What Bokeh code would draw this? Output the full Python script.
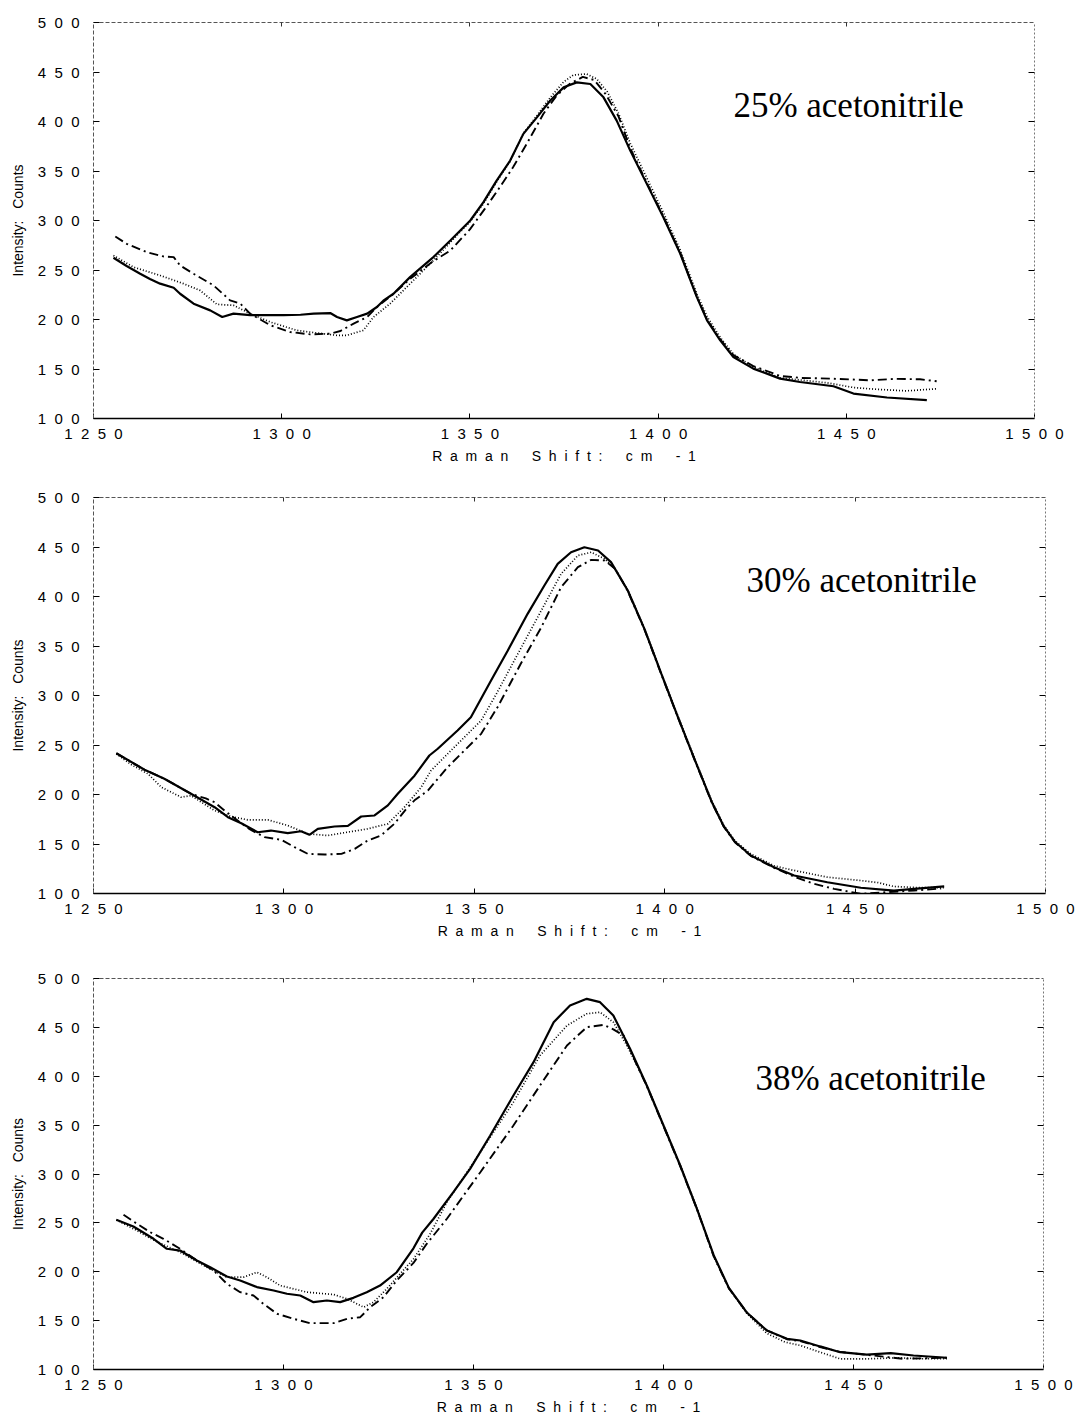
from bokeh.plotting import figure
from bokeh.layouts import column
from bokeh.models import Range1d, FixedTicker, LinearAxis, Label
from bokeh.embed import file_html
from bokeh.resources import INLINE

# ---------------- data ----------------
x_ticks = [1250, 1300, 1350, 1400, 1450, 1500]
y_ticks = [100, 150, 200, 250, 300, 350, 400, 450, 500]
panel_labels = ["25% acetonitrile", "30% acetonitrile", "38% acetonitrile"]
x_title = "Raman Shift:  cm -1"
y_title = "Intensity:  Counts"

# Panel 1 (25%)
p1_solid_x = [1255.3, 1258.8, 1262.4, 1265.0, 1267.7, 1271.3, 1273.0, 1276.6, 1281.0, 1284.2, 1287.2, 1291.6, 1296.0, 1300.5, 1305.0, 1308.5, 1312.9, 1314.7, 1317.3, 1320.0, 1322.7, 1325.3, 1327.0, 1329.7, 1334.1, 1340.3, 1344.8, 1350.1, 1353.6, 1357.1, 1360.7, 1364.2, 1367.8, 1371.3, 1374.9, 1378.4, 1382.0, 1385.5, 1389.0, 1392.6, 1397.0, 1401.4, 1405.9, 1410.3, 1413.0, 1416.5, 1420.0, 1425.3, 1432.4, 1437.7, 1446.6, 1451.9, 1460.8, 1471.4]
p1_solid_y = [262.4, 254.0, 246.2, 241.0, 236.2, 232.1, 226.0, 216.0, 209.2, 202.5, 205.9, 204.5, 204.5, 204.5, 204.8, 205.9, 206.5, 202.5, 199.1, 202.5, 205.9, 212.6, 219.0, 226.0, 242.8, 263.0, 279.8, 300.0, 318.5, 340.3, 360.5, 387.5, 404.2, 421.0, 434.5, 439.5, 437.9, 424.4, 400.9, 370.6, 337.0, 303.3, 266.4, 222.6, 199.1, 179.0, 162.1, 150.4, 140.3, 136.9, 132.6, 125.2, 121.2, 118.5]
p1_dot_x = [1255.3, 1260.6, 1267.7, 1273.9, 1278.3, 1282.8, 1287.2, 1291.6, 1297.0, 1304.0, 1309.4, 1314.7, 1317.3, 1321.7, 1324.4, 1328.8, 1333.2, 1340.3, 1344.8, 1350.1, 1353.6, 1357.1, 1360.7, 1364.2, 1367.8, 1371.3, 1374.9, 1377.5, 1381.0, 1383.7, 1386.5, 1389.5, 1392.6, 1397.0, 1401.4, 1405.9, 1410.3, 1413.0, 1416.5, 1420.0, 1425.3, 1432.4, 1438.6, 1445.0, 1451.9, 1458.0, 1466.0, 1474.0]
p1_dot_y = [264.7, 252.9, 244.5, 236.2, 229.4, 215.3, 214.3, 205.9, 197.4, 189.0, 186.4, 184.0, 184.0, 189.0, 202.5, 216.0, 232.7, 259.6, 278.0, 299.0, 317.0, 339.0, 360.0, 388.0, 406.0, 424.0, 440.0, 447.0, 448.0, 443.0, 430.0, 408.0, 378.0, 343.0, 308.0, 270.0, 226.0, 203.0, 182.0, 165.0, 152.0, 141.0, 138.6, 136.0, 131.3, 129.5, 127.9, 130.0]
p1_dd_x = [1255.8, 1258.8, 1264.2, 1268.6, 1271.3, 1273.0, 1276.6, 1281.9, 1286.3, 1289.0, 1291.6, 1297.0, 1302.3, 1307.6, 1312.9, 1315.6, 1319.1, 1322.7, 1325.3, 1329.7, 1334.1, 1340.3, 1344.8, 1350.0, 1354.0, 1358.0, 1361.5, 1365.1, 1369.5, 1373.0, 1376.5, 1380.0, 1383.0, 1386.0, 1389.5, 1392.6, 1397.0, 1401.4, 1405.9, 1410.3, 1413.0, 1416.5, 1420.0, 1425.3, 1432.4, 1438.0, 1445.7, 1456.3, 1463.0, 1469.6, 1474.0]
p1_dd_y = [283.9, 276.5, 268.0, 263.7, 263.0, 254.6, 246.2, 234.4, 219.3, 216.0, 205.9, 194.1, 187.3, 185.0, 185.7, 188.4, 195.8, 202.5, 212.6, 226.0, 241.0, 259.0, 269.7, 291.0, 312.0, 333.9, 354.0, 377.4, 407.6, 426.0, 438.0, 445.0, 442.0, 428.0, 405.0, 373.0, 338.0, 304.0, 267.0, 223.0, 200.0, 180.0, 164.0, 153.0, 143.0, 141.0, 140.3, 138.6, 140.0, 139.6, 137.6]

# Panel 2 (30%)
p2_solid_x = [1256.0, 1263.4, 1268.6, 1275.6, 1281.8, 1285.3, 1288.8, 1293.1, 1296.6, 1301.0, 1304.5, 1306.7, 1308.9, 1313.3, 1316.8, 1320.3, 1323.8, 1327.3, 1329.9, 1334.3, 1338.2, 1340.4, 1345.6, 1349.1, 1354.4, 1358.8, 1364.0, 1368.4, 1371.9, 1375.4, 1378.9, 1382.5, 1385.9, 1390.3, 1394.7, 1399.1, 1403.5, 1407.9, 1412.3, 1415.5, 1418.5, 1422.6, 1428.7, 1434.0, 1442.7, 1451.5, 1460.2, 1465.5, 1473.4]
p2_solid_y = [241.7, 225.0, 215.9, 200.7, 187.2, 177.1, 171.0, 161.9, 163.6, 160.9, 162.9, 159.3, 165.3, 167.7, 168.4, 177.8, 178.8, 189.0, 200.7, 219.0, 239.4, 246.2, 264.6, 278.1, 315.2, 345.5, 382.5, 411.1, 433.0, 444.7, 449.8, 446.5, 434.7, 406.1, 367.0, 322.0, 278.0, 235.0, 193.0, 168.0, 152.0, 138.4, 126.6, 118.2, 111.4, 105.8, 103.0, 104.7, 107.1]
p2_dot_x = [1256.0, 1260.0, 1264.3, 1267.8, 1273.0, 1275.6, 1281.8, 1286.1, 1290.5, 1295.8, 1301.0, 1306.3, 1311.5, 1316.8, 1322.0, 1327.3, 1331.6, 1336.0, 1338.6, 1343.0, 1351.8, 1356.0, 1360.5, 1367.6, 1372.8, 1377.2, 1380.7, 1384.2, 1387.0, 1390.3, 1394.7, 1399.1, 1403.5, 1407.9, 1412.3, 1415.5, 1418.5, 1422.6, 1428.7, 1433.1, 1442.7, 1451.5, 1456.0, 1460.2, 1466.0, 1473.4]
p2_dot_y = [241.0, 230.0, 220.9, 207.4, 197.3, 198.9, 183.8, 177.8, 174.4, 174.4, 168.7, 160.3, 158.6, 162.0, 165.3, 170.4, 187.0, 207.0, 224.0, 241.1, 274.7, 303.0, 335.4, 385.9, 422.9, 441.4, 444.7, 438.1, 428.0, 406.5, 367.5, 322.5, 279.0, 236.0, 194.0, 169.0, 153.0, 140.0, 128.0, 124.0, 116.5, 113.1, 111.0, 107.1, 106.0, 106.0]
p2_dd_x = [1256.0, 1263.4, 1268.6, 1275.6, 1279.5, 1281.8, 1284.4, 1288.8, 1291.0, 1294.9, 1299.3, 1302.8, 1306.3, 1310.7, 1315.1, 1318.6, 1322.0, 1325.5, 1329.0, 1332.5, 1334.3, 1337.8, 1343.0, 1351.8, 1356.1, 1362.2, 1367.6, 1372.8, 1377.2, 1380.7, 1384.2, 1387.0, 1390.3, 1394.7, 1399.1, 1403.5, 1407.9, 1412.3, 1415.5, 1418.5, 1422.6, 1428.7, 1434.0, 1439.0, 1444.5, 1451.5, 1456.8, 1465.5, 1472.6]
p2_dd_y = [241.7, 225.0, 215.9, 200.7, 196.0, 192.3, 183.8, 171.0, 165.0, 156.9, 154.2, 146.8, 140.0, 139.4, 140.0, 145.1, 153.5, 158.6, 170.4, 187.2, 194.1, 204.0, 227.6, 261.3, 288.2, 332.0, 369.0, 409.4, 429.6, 437.0, 436.4, 428.0, 405.5, 366.5, 321.5, 277.5, 234.5, 192.5, 167.5, 151.5, 138.0, 126.0, 117.0, 110.0, 104.7, 99.7, 101.0, 103.0, 105.0]

# Panel 3 (38%)
p3_solid_x = [1256.0, 1260.5, 1265.8, 1269.3, 1272.8, 1277.2, 1280.7, 1285.1, 1288.6, 1293.0, 1297.4, 1300.9, 1304.4, 1307.9, 1311.4, 1314.9, 1318.4, 1321.9, 1325.4, 1329.8, 1334.2, 1336.5, 1339.5, 1344.7, 1349.1, 1354.4, 1360.5, 1365.8, 1371.1, 1375.4, 1379.8, 1383.3, 1386.8, 1391.2, 1395.6, 1400.0, 1404.4, 1408.8, 1413.2, 1417.2, 1422.0, 1427.2, 1432.5, 1436.0, 1441.2, 1446.5, 1453.5, 1459.8, 1465.8, 1474.6]
p3_solid_y = [253.1, 246.3, 233.7, 223.5, 221.7, 211.5, 204.7, 195.1, 191.1, 184.3, 180.8, 177.5, 175.7, 168.9, 170.6, 168.9, 173.3, 179.1, 185.9, 199.5, 224.0, 240.0, 254.2, 281.4, 305.3, 339.4, 380.3, 414.4, 455.3, 472.4, 479.2, 475.8, 462.1, 428.1, 390.5, 349.6, 308.7, 264.4, 217.0, 183.5, 158.0, 139.9, 131.4, 129.7, 123.6, 117.7, 115.3, 116.7, 114.3, 112.0]
p3_dot_x = [1256.0, 1261.4, 1266.0, 1272.8, 1279.8, 1285.1, 1289.5, 1293.0, 1295.6, 1299.1, 1306.2, 1313.2, 1316.7, 1321.1, 1323.7, 1327.2, 1330.7, 1334.2, 1338.6, 1343.0, 1351.8, 1360.5, 1367.5, 1374.6, 1379.8, 1383.3, 1386.8, 1390.3, 1395.6, 1400.0, 1404.4, 1408.8, 1413.2, 1417.2, 1422.0, 1427.2, 1432.0, 1436.0, 1441.0, 1446.5, 1453.5, 1462.0, 1468.0, 1474.6]
p3_dot_y = [253.0, 242.2, 232.0, 220.0, 204.7, 194.5, 194.5, 199.5, 194.5, 185.9, 179.1, 176.7, 172.3, 163.7, 168.9, 182.6, 197.9, 213.0, 238.8, 271.2, 322.3, 373.5, 421.2, 451.9, 463.9, 465.5, 455.3, 432.0, 391.0, 350.0, 309.0, 265.0, 216.0, 183.0, 157.0, 137.0, 128.0, 124.6, 118.0, 110.9, 110.9, 112.0, 111.0, 111.0]
p3_dd_x = [1257.9, 1260.5, 1264.9, 1268.4, 1272.8, 1277.2, 1281.6, 1285.1, 1288.6, 1292.1, 1294.7, 1298.3, 1302.6, 1307.0, 1313.2, 1316.7, 1320.2, 1322.8, 1326.3, 1329.8, 1334.2, 1337.7, 1343.0, 1351.8, 1360.5, 1367.5, 1374.6, 1379.8, 1384.2, 1386.8, 1389.5, 1392.0, 1395.6, 1400.0, 1404.4, 1408.8, 1413.2, 1417.2, 1422.0, 1427.2, 1432.5, 1436.0, 1441.2, 1446.5, 1453.5, 1463.0, 1474.6]
p3_dd_y = [258.3, 251.5, 240.5, 233.7, 223.5, 211.5, 201.3, 187.7, 179.1, 175.7, 167.2, 157.0, 151.9, 147.4, 147.4, 151.9, 153.5, 163.7, 173.9, 191.0, 209.0, 228.6, 254.2, 301.8, 349.6, 390.5, 431.5, 450.2, 452.6, 448.0, 441.7, 420.0, 390.0, 349.0, 308.0, 264.0, 216.0, 183.0, 158.0, 140.0, 131.0, 129.0, 123.0, 118.0, 115.0, 111.0, 112.0]

panels = [
    (p1_solid_x, p1_solid_y, p1_dot_x, p1_dot_y, p1_dd_x, p1_dd_y),
    (p2_solid_x, p2_solid_y, p2_dot_x, p2_dot_y, p2_dd_x, p2_dd_y),
    (p3_solid_x, p3_solid_y, p3_dot_x, p3_dot_y, p3_dd_x, p3_dd_y),
]

# ---------------- layout / style ----------------
# (left, frame_w, right, top, frame_h, bottom)
geom = [
    (90, 941, 47, 22, 396, 52),
    (92, 952, 34, 27, 396, 57),
    (93, 950, 35, 28, 391, 44),
]
label_pos = [(1420.0, 416.0), (1421.5, 416.0), (1424.2, 398.0)]

NB = "\u00a0"


def spaced(s, gap=2):
    return (NB * gap).join(list(s))


def spaced_title(s):
    words = s.split()
    return (NB * 6).join(spaced(w) for w in words)


SANS = "Liberation Sans"
figs = []
for i, (sx, sy, dx, dy, ddx, ddy) in enumerate(panels):
    l, fw, r, t, fh, b = geom[i]
    p = figure(frame_width=fw, frame_height=fh,
               min_border_left=l, min_border_right=r,
               min_border_top=t, min_border_bottom=b,
               x_range=Range1d(1250, 1500), y_range=Range1d(100, 500),
               output_backend="svg", toolbar_location=None)
    p.outline_line_color = None
    p.background_fill_color = "white"
    p.border_fill_color = "white"
    p.xgrid.visible = False
    p.ygrid.visible = False

    # bottom axis
    xa = p.xaxis[0]
    xa.ticker = FixedTicker(ticks=x_ticks)
    xa.major_label_overrides = {v: spaced(str(v)) for v in x_ticks}
    xa.major_tick_in = 5
    xa.major_tick_out = 0
    xa.minor_tick_line_color = None
    xa.axis_line_color = "black"
    xa.axis_line_width = 1.5
    xa.major_tick_line_color = "black"
    xa.major_label_text_font = SANS
    xa.major_label_text_font_size = "15px"
    xa.major_label_text_color = "black"
    xa.major_label_standoff = 6
    xa.axis_label = spaced_title(x_title)
    xa.axis_label_text_font = SANS
    xa.axis_label_text_font_style = "normal"
    xa.axis_label_text_font_size = "14px"
    xa.axis_label_text_color = "black"
    xa.axis_label_standoff = 3

    # left axis
    ya = p.yaxis[0]
    ya.ticker = FixedTicker(ticks=y_ticks)
    ya.major_label_overrides = {v: spaced(str(v)) for v in y_ticks}
    ya.major_tick_in = 6
    ya.major_tick_out = 0
    ya.minor_tick_line_color = None
    ya.axis_line_color = "#555555"
    ya.axis_line_dash = "4 2"
    ya.axis_line_width = 1
    ya.major_tick_line_color = "black"
    ya.major_label_text_font = SANS
    ya.major_label_text_font_size = "15px"
    ya.major_label_text_color = "black"
    ya.major_label_standoff = 14
    ya.axis_label = y_title.replace("  ", NB * 3)
    ya.axis_label_text_font = SANS
    ya.axis_label_text_font_style = "normal"
    ya.axis_label_text_font_size = "14px"
    ya.axis_label_text_color = "black"
    ya.axis_label_standoff = 9

    # top and right frame lines with inward ticks
    top = LinearAxis(ticker=FixedTicker(ticks=x_ticks[1:-1]))
    top.major_tick_in = 4
    top.major_tick_out = 0
    top.minor_tick_line_color = None
    top.axis_line_color = "#555555"
    top.axis_line_dash = "4 2"
    top.major_tick_line_color = "#333333"
    top.major_label_text_color = None
    top.major_label_text_font_size = "1px"
    top.major_label_standoff = 0
    p.add_layout(top, "above")

    right = LinearAxis(ticker=FixedTicker(ticks=y_ticks[1:-1]))
    right.major_tick_in = 6
    right.major_tick_out = 0
    right.minor_tick_line_color = None
    right.axis_line_color = "#777777"
    right.axis_line_dash = "2 2"
    right.major_tick_line_color = "black"
    right.major_label_text_color = None
    right.major_label_text_font_size = "1px"
    right.major_label_standoff = 0
    p.add_layout(right, "right")

    # curves
    p.line(ddx, ddy, line_color="black", line_width=1.9, line_dash="9 4 2 4")
    p.line(dx, dy, line_color="black", line_width=1.7, line_dash="1 2")
    p.line(sx, sy, line_color="black", line_width=2.2)

    lx, ly = label_pos[i]
    p.add_layout(Label(x=lx, y=ly, text=panel_labels[i],
                       text_font="Liberation Serif", text_font_size="35px",
                       text_color="black", text_baseline="middle",
                       text_align="left"))
    figs.append(p)

layout = column(*figs)
open("out.html", "w").write(file_html(layout, INLINE))
